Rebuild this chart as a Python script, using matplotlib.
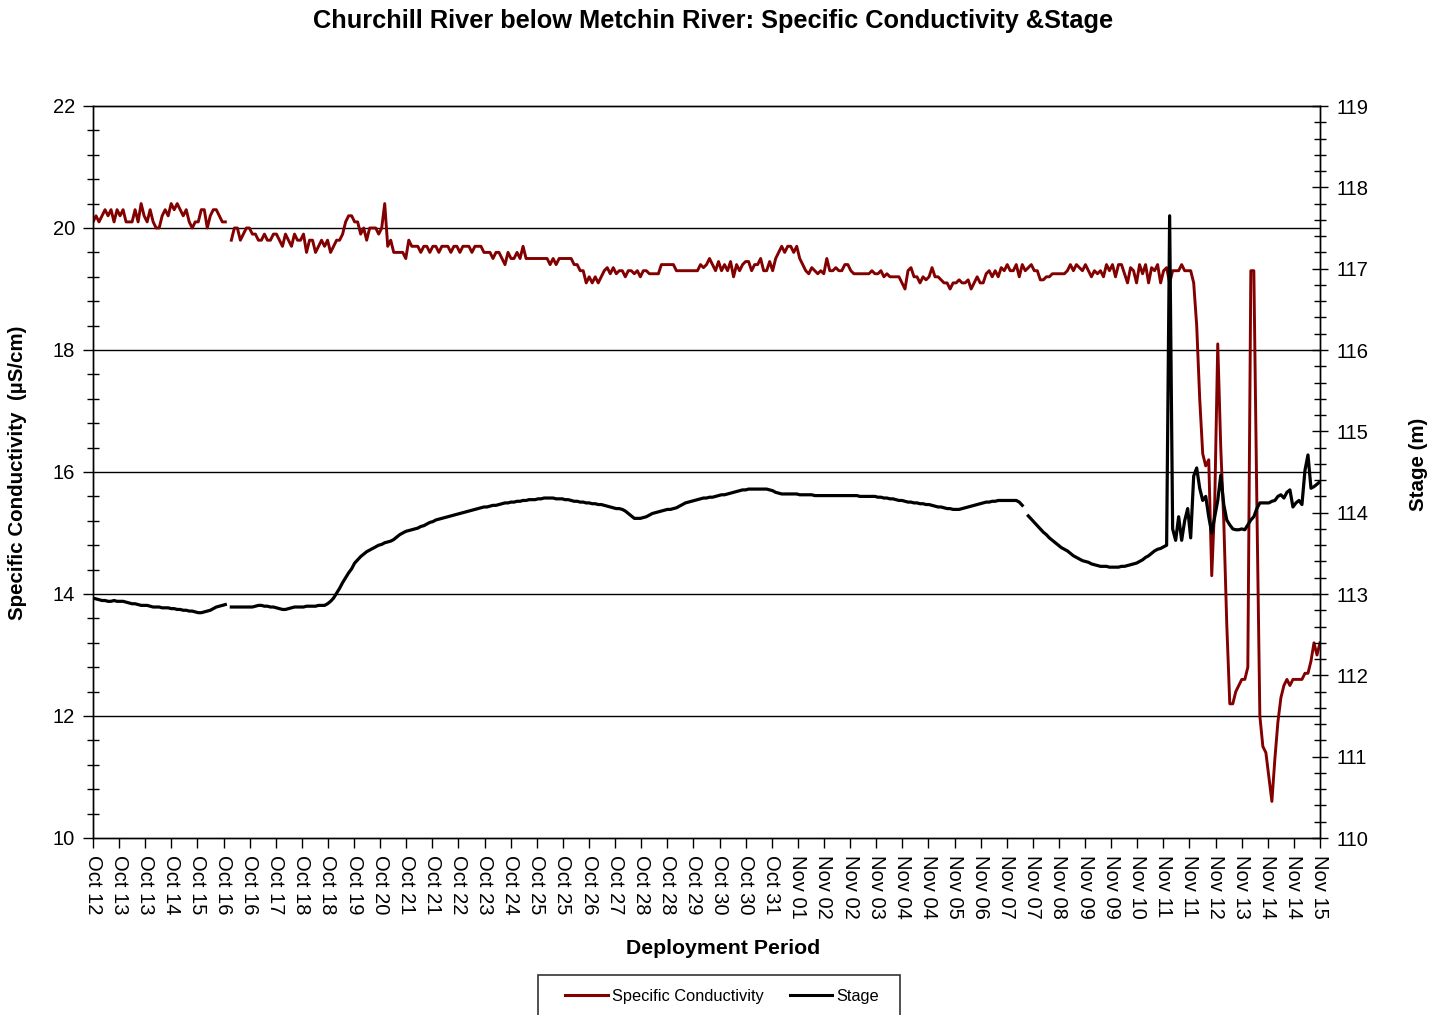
import numpy as np
import matplotlib
matplotlib.use("Agg")
import matplotlib.pyplot as plt
from matplotlib.ticker import MultipleLocator, FixedLocator, NullLocator
from matplotlib.patches import Rectangle

plt.rcParams['font.family'] = ['Liberation Sans', 'DejaVu Sans']

# Logger record: one reading every 2 hours, first reading Oct 12 10:00
start_day = 10 / 24          # days after Oct 12 00:00
step_day = 2 / 24
nan = np.nan

# Specific conductivity (uS/cm), one row per day
conductivity = [
    20.1, 20.2, 20.1, 20.2, 20.3, 20.2, 20.3, 20.1, 20.3, 20.2, 20.3, 20.1,
    20.1, 20.1, 20.3, 20.1, 20.4, 20.2, 20.1, 20.3, 20.1, 20.0, 20.0, 20.2,
    20.3, 20.2, 20.4, 20.3, 20.4, 20.3, 20.2, 20.3, 20.1, 20.0, 20.1, 20.1,
    20.3, 20.3, 20.0, 20.2, 20.3, 20.3, 20.2, 20.1, 20.1, nan, 19.8, 20.0,
    20.0, 19.8, 19.9, 20.0, 20.0, 19.9, 19.9, 19.8, 19.8, 19.9, 19.8, 19.8,
    19.9, 19.9, 19.8, 19.7, 19.9, 19.8, 19.7, 19.9, 19.8, 19.8, 19.9, 19.6,
    19.8, 19.8, 19.6, 19.7, 19.8, 19.7, 19.8, 19.6, 19.7, 19.8, 19.8, 19.9,
    20.1, 20.2, 20.2, 20.1, 20.1, 19.9, 20.0, 19.8, 20.0, 20.0, 20.0, 19.9,
    20.0, 20.4, 19.7, 19.8, 19.6, 19.6, 19.6, 19.6, 19.5, 19.8, 19.7, 19.7,
    19.7, 19.6, 19.7, 19.7, 19.6, 19.7, 19.7, 19.6, 19.7, 19.7, 19.7, 19.6,
    19.7, 19.7, 19.6, 19.7, 19.7, 19.7, 19.6, 19.7, 19.7, 19.7, 19.6, 19.6,
    19.6, 19.5, 19.6, 19.6, 19.5, 19.4, 19.6, 19.5, 19.5, 19.6, 19.5, 19.7,
    19.5, 19.5, 19.5, 19.5, 19.5, 19.5, 19.5, 19.5, 19.4, 19.5, 19.4, 19.5,
    19.5, 19.5, 19.5, 19.5, 19.4, 19.4, 19.3, 19.3, 19.1, 19.2, 19.1, 19.2,
    19.1, 19.2, 19.3, 19.35, 19.25, 19.35, 19.25, 19.3, 19.3, 19.2, 19.3, 19.3,
    19.25, 19.3, 19.2, 19.3, 19.3, 19.25, 19.25, 19.25, 19.25, 19.4, 19.4, 19.4,
    19.4, 19.4, 19.3, 19.3, 19.3, 19.3, 19.3, 19.3, 19.3, 19.3, 19.4, 19.35,
    19.4, 19.5, 19.4, 19.3, 19.45, 19.3, 19.4, 19.3, 19.45, 19.2, 19.4, 19.3,
    19.4, 19.45, 19.45, 19.3, 19.4, 19.4, 19.5, 19.3, 19.3, 19.45, 19.3, 19.5,
    19.6, 19.7, 19.6, 19.7, 19.7, 19.6, 19.7, 19.5, 19.4, 19.3, 19.25, 19.35,
    19.3, 19.25, 19.3, 19.25, 19.5, 19.3, 19.3, 19.35, 19.3, 19.3, 19.4, 19.4,
    19.3, 19.25, 19.25, 19.25, 19.25, 19.25, 19.25, 19.3, 19.25, 19.25, 19.3, 19.2,
    19.25, 19.2, 19.2, 19.2, 19.2, 19.1, 19.0, 19.3, 19.35, 19.2, 19.2, 19.1,
    19.2, 19.15, 19.2, 19.35, 19.2, 19.2, 19.15, 19.1, 19.1, 19.0, 19.1, 19.1,
    19.15, 19.1, 19.1, 19.15, 19.0, 19.1, 19.2, 19.1, 19.1, 19.25, 19.3, 19.2,
    19.3, 19.2, 19.35, 19.3, 19.4, 19.3, 19.3, 19.4, 19.2, 19.4, 19.3, 19.35,
    19.4, 19.3, 19.3, 19.15, 19.15, 19.2, 19.2, 19.25, 19.25, 19.25, 19.25, 19.25,
    19.3, 19.4, 19.3, 19.4, 19.35, 19.3, 19.4, 19.3, 19.2, 19.3, 19.25, 19.3,
    19.2, 19.4, 19.3, 19.4, 19.2, 19.4, 19.4, 19.25, 19.1, 19.35, 19.3, 19.1,
    19.4, 19.25, 19.4, 19.1, 19.35, 19.3, 19.4, 19.1, 19.3, 19.35, 19.1, 19.3,
    19.3, 19.3, 19.4, 19.3, 19.3, 19.3, 19.1, 18.4, 17.2, 16.3, 16.1, 16.2,
    14.3, 15.5, 18.1, 16.4, 15.2, 13.5, 12.2, 12.2, 12.4, 12.5, 12.6, 12.6,
    12.8, 19.3, 19.3, 15.5, 12.0, 11.5, 11.4, 11.0, 10.6, 11.3, 11.9, 12.3,
    12.5, 12.6, 12.5, 12.6, 12.6, 12.6, 12.6, 12.7, 12.7, 12.9, 13.2, 13.0,
    13.2,
]

# Stage (m), same timestamps
stage = [
    112.95, 112.94, 112.93, 112.92, 112.92, 112.91, 112.91, 112.92, 112.91, 112.91, 112.91, 112.90,
    112.89, 112.88, 112.88, 112.87, 112.86, 112.86, 112.86, 112.85, 112.84, 112.84, 112.84, 112.83,
    112.83, 112.83, 112.82, 112.82, 112.81, 112.81, 112.80, 112.80, 112.79, 112.79, 112.78, 112.77,
    112.77, 112.78, 112.79, 112.80, 112.82, 112.84, 112.85, 112.86, 112.87, nan, 112.84, 112.84,
    112.84, 112.84, 112.84, 112.84, 112.84, 112.84, 112.85, 112.86, 112.86, 112.85, 112.85, 112.84,
    112.84, 112.83, 112.82, 112.81, 112.81, 112.82, 112.83, 112.84, 112.84, 112.84, 112.84, 112.85,
    112.85, 112.85, 112.85, 112.86, 112.86, 112.86, 112.88, 112.91, 112.95, 113.01, 113.07, 113.14,
    113.20, 113.26, 113.31, 113.38, 113.42, 113.46, 113.49, 113.52, 113.54, 113.56, 113.58, 113.60,
    113.61, 113.63, 113.64, 113.65, 113.67, 113.70, 113.73, 113.75, 113.77, 113.78, 113.79, 113.80,
    113.81, 113.83, 113.84, 113.86, 113.88, 113.89, 113.91, 113.92, 113.93, 113.94, 113.95, 113.96,
    113.97, 113.98, 113.99, 114.00, 114.01, 114.02, 114.03, 114.04, 114.05, 114.06, 114.07, 114.07,
    114.08, 114.09, 114.09, 114.10, 114.11, 114.12, 114.12, 114.13, 114.13, 114.14, 114.14, 114.15,
    114.15, 114.16, 114.16, 114.16, 114.17, 114.17, 114.18, 114.18, 114.18, 114.18, 114.17, 114.17,
    114.17, 114.16, 114.16, 114.15, 114.14, 114.14, 114.13, 114.13, 114.12, 114.12, 114.11, 114.11,
    114.10, 114.10, 114.09, 114.08, 114.07, 114.06, 114.05, 114.05, 114.04, 114.02, 113.99, 113.96,
    113.93, 113.93, 113.93, 113.94, 113.95, 113.97, 113.99, 114.00, 114.01, 114.02, 114.03, 114.04,
    114.04, 114.05, 114.06, 114.08, 114.10, 114.12, 114.13, 114.14, 114.15, 114.16, 114.17, 114.18,
    114.18, 114.19, 114.19, 114.20, 114.21, 114.22, 114.22, 114.23, 114.24, 114.25, 114.26, 114.27,
    114.28, 114.28, 114.29, 114.29, 114.29, 114.29, 114.29, 114.29, 114.29, 114.28, 114.27, 114.25,
    114.24, 114.23, 114.23, 114.23, 114.23, 114.23, 114.23, 114.22, 114.22, 114.22, 114.22, 114.22,
    114.21, 114.21, 114.21, 114.21, 114.21, 114.21, 114.21, 114.21, 114.21, 114.21, 114.21, 114.21,
    114.21, 114.21, 114.21, 114.20, 114.20, 114.20, 114.20, 114.20, 114.20, 114.19, 114.19, 114.18,
    114.18, 114.17, 114.17, 114.16, 114.15, 114.15, 114.14, 114.13, 114.13, 114.12, 114.12, 114.11,
    114.11, 114.10, 114.10, 114.09, 114.08, 114.07, 114.07, 114.06, 114.05, 114.05, 114.04, 114.04,
    114.04, 114.05, 114.06, 114.07, 114.08, 114.09, 114.10, 114.11, 114.12, 114.13, 114.13, 114.14,
    114.14, 114.15, 114.15, 114.15, 114.15, 114.15, 114.15, 114.15, 114.13, 114.09, nan, 113.96,
    113.92, 113.88, 113.84, 113.80, 113.76, 113.73, 113.69, 113.66, 113.63, 113.60, 113.57, 113.55,
    113.53, 113.50, 113.47, 113.45, 113.43, 113.41, 113.40, 113.39, 113.37, 113.36, 113.35, 113.34,
    113.34, 113.34, 113.33, 113.33, 113.33, 113.33, 113.34, 113.34, 113.35, 113.36, 113.37, 113.38,
    113.40, 113.42, 113.45, 113.47, 113.50, 113.53, 113.55, 113.56, 113.58, 113.60, 117.65, 113.80,
    113.66, 113.95, 113.66, 113.90, 114.05, 113.69, 114.45, 114.55, 114.30, 114.15, 114.20, 113.95,
    113.75, 113.95, 114.15, 114.46, 114.10, 113.91, 113.85, 113.80, 113.79, 113.79, 113.80, 113.79,
    113.85, 113.91, 113.95, 114.05, 114.12, 114.12, 114.12, 114.12, 114.14, 114.15, 114.20, 114.22,
    114.18, 114.25, 114.28, 114.07, 114.12, 114.15, 114.10, 114.52, 114.71, 114.30, 114.32, 114.35,
    114.38,
]

tick_labels = [
    "Oct 12", "Oct 13", "Oct 13", "Oct 14", "Oct 15", "Oct 16", "Oct 16", "Oct 17",
    "Oct 18", "Oct 18", "Oct 19", "Oct 20", "Oct 21", "Oct 21", "Oct 22", "Oct 23",
    "Oct 24", "Oct 25", "Oct 25", "Oct 26", "Oct 27", "Oct 28", "Oct 28", "Oct 29",
    "Oct 30", "Oct 30", "Oct 31", "Nov 01", "Nov 02", "Nov 02", "Nov 03", "Nov 04",
    "Nov 04", "Nov 05", "Nov 06", "Nov 07", "Nov 07", "Nov 08", "Nov 09", "Nov 09",
    "Nov 10", "Nov 11", "Nov 11", "Nov 12", "Nov 13", "Nov 14", "Nov 14", "Nov 15",
]

cond = np.array(conductivity, dtype=float)
stg = np.array(stage, dtype=float)
t = start_day + step_day * np.arange(len(cond))
x_min, x_max = start_day, start_day + 34

red = '#820000'
W, H = 1445, 1015

fig = plt.figure(figsize=(W / 100, H / 100), dpi=100)
ax = fig.add_axes([93 / W, 1 - 838 / H, 1227 / W, 732 / H])
ax2 = ax.twinx()

ax.plot(t, cond, color=red, lw=2.1, solid_joinstyle='round', zorder=3)
ax2.plot(t, stg, color='black', lw=2.3, solid_joinstyle='round', zorder=3)

ax.set_xlim(x_min, x_max)
ax.set_ylim(10, 22)
ax2.set_ylim(110, 119)

# horizontal gridlines at the conductivity majors
for v in [12, 14, 16, 18, 20]:
    ax.axhline(v, color='black', lw=1.0, zorder=1)

ax.yaxis.set_major_locator(MultipleLocator(2))
ax.yaxis.set_minor_locator(MultipleLocator(0.4))
ax2.yaxis.set_major_locator(MultipleLocator(1))
ax2.yaxis.set_minor_locator(MultipleLocator(0.2))

ax.xaxis.set_major_locator(FixedLocator(np.linspace(x_min, x_max, len(tick_labels))))
ax.xaxis.set_minor_locator(NullLocator())
ax.set_xticklabels(tick_labels, rotation=270, fontsize=14.5, ha='center', va='top')

ax.tick_params(axis='y', which='major', direction='out', length=7, width=1,
               labelsize=14.5, pad=6)
ax.tick_params(axis='y', which='minor', direction='inout', length=8, width=1)
ax.tick_params(axis='x', which='major', direction='out', length=7, width=1, pad=5)
ax2.tick_params(axis='y', which='major', direction='inout', length=12, width=1,
                labelsize=14.5, pad=6)
ax2.tick_params(axis='y', which='minor', direction='inout', length=8, width=1)

for a in (ax, ax2):
    for s in a.spines.values():
        s.set_color('black')
        s.set_linewidth(1.0)

fig.text(713 / W, 1 - 21 / H,
         "Churchill River below Metchin River: Specific Conductivity &Stage",
         ha='center', va='center', fontsize=18.3, fontweight='bold')
fig.text(18 / W, 1 - 473 / H, "Specific Conductivity  (\u00b5S/cm)",
         rotation=90, ha='center', va='center', fontsize=14.8, fontweight='bold')
fig.text(1418 / W, 1 - 464 / H, "Stage (m)",
         rotation=90, ha='center', va='center', fontsize=14.8, fontweight='bold')
fig.text(723 / W, 1 - 948 / H, "Deployment Period",
         ha='center', va='center', fontsize=15.3, fontweight='bold')

# legend box running off the bottom edge
fig.patches.append(Rectangle((538 / W, 1 - 1018 / H), 362 / W, 43 / H,
                             transform=fig.transFigure, facecolor='white',
                             edgecolor='#333333', lw=1.2, zorder=5))
h1, = ax.plot([], [], color=red, lw=2.2)
h2, = ax.plot([], [], color='black', lw=2.2)
leg = fig.legend([h1, h2], ["Specific Conductivity", "Stage"], ncol=2,
                 loc='center', bbox_to_anchor=(722 / W, 1 - 996 / H),
                 fontsize=11.8, frameon=False,
                 handlelength=2.6, handletextpad=0.25, columnspacing=1.6,
                 borderpad=0, borderaxespad=0)
leg.set_zorder(6)

fig.savefig("out.png", dpi=100)
